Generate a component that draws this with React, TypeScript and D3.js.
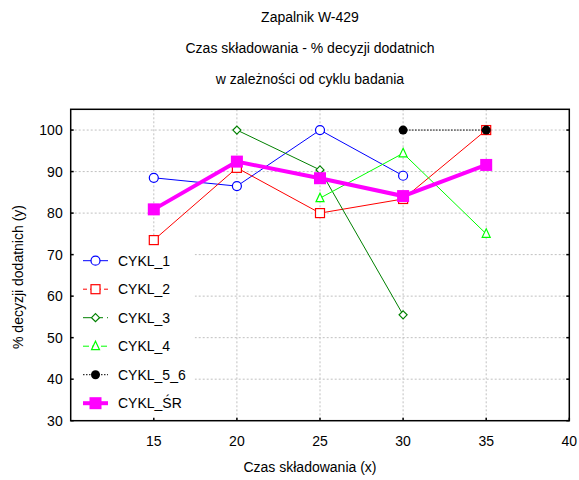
import React from "react";
import * as d3 from "d3";

const titleLines = ["Zapalnik W-429", "Czas składowania - % decyzji dodatnich", "w zależności od cyklu badania"];
const xTicks = [15, 20, 25, 30, 35, 40];
const yTicks = [30, 40, 50, 60, 70, 80, 90, 100];

const cykl1X = [15, 20, 25, 30];
const cykl1Y = [88.5, 86.5, 100, 89];
const cykl2X = [15, 20, 25, 30, 35];
const cykl2Y = [73.5, 90.9, 80, 83.4, 100];
const cykl3X = [20, 25, 30];
const cykl3Y = [100, 90.4, 55.5];
const cykl4X = [25, 30, 35];
const cykl4Y = [83.6, 94.4, 75];
const cykl56X = [30, 35];
const cykl56Y = [100, 100];
const cyklSrX = [15, 20, 25, 30, 35];
const cyklSrY = [80.9, 92.4, 88.4, 84.1, 91.6];

type Series = { name: string; xs: number[]; ys: number[]; color: string; marker: string; width: number; dash: string; legendDash: string };

const series: Series[] = [
  { name: "CYKL_1", xs: cykl1X, ys: cykl1Y, color: "#0000ff", marker: "circle", width: 1, dash: "", legendDash: "" },
  { name: "CYKL_2", xs: cykl2X, ys: cykl2Y, color: "#ff0000", marker: "square", width: 1, dash: "", legendDash: "4,3" },
  { name: "CYKL_3", xs: cykl3X, ys: cykl3Y, color: "#008000", marker: "diamond", width: 1, dash: "", legendDash: "8,4" },
  { name: "CYKL_4", xs: cykl4X, ys: cykl4Y, color: "#00ff00", marker: "triangle", width: 1, dash: "", legendDash: "6,3" },
  { name: "CYKL_5_6", xs: cykl56X, ys: cykl56Y, color: "#000000", marker: "dot", width: 1, dash: "1.5,1.5", legendDash: "1.5,1.5" },
  { name: "CYKL_ŚR", xs: cyklSrX, ys: cyklSrY, color: "#ff00ff", marker: "bigsquare", width: 4, dash: "", legendDash: "" },
];

const W = 579, H = 480;
const L = 70.7, R = 569.3, T = 109.3, B = 420.7;
const x = d3.scaleLinear().domain([10, 40]).range([L, R]);
const y = d3.scaleLinear().domain([30, 105]).range([B, T]);
const font = "'Liberation Sans', Arial, sans-serif";
const CX = 310;

function Marker({ kind, cx, cy, color }: { kind: string; cx: number; cy: number; color: string }) {
  switch (kind) {
    case "circle":
      return <circle cx={cx} cy={cy} r={4.5} fill="white" stroke={color} strokeWidth={1.2} />;
    case "square":
      return <rect x={cx - 4.5} y={cy - 4.5} width={9} height={9} fill="white" stroke={color} strokeWidth={1.2} />;
    case "diamond":
      return <path d={`M${cx},${cy - 4}L${cx + 4},${cy}L${cx},${cy + 4}L${cx - 4},${cy}Z`} fill="white" stroke={color} strokeWidth={1.2} />;
    case "triangle":
      return <path d={`M${cx},${cy - 5}L${cx + 4},${cy + 3.5}L${cx - 4},${cy + 3.5}Z`} fill="white" stroke={color} strokeWidth={1.2} />;
    case "dot":
      return <circle cx={cx} cy={cy} r={4.5} fill={color} />;
    case "bigsquare":
      return <rect x={cx - 6} y={cy - 6} width={12} height={12} fill={color} />;
  }
  return null;
}

export default function App() {
  const line = d3.line<[number, number]>().x((d) => x(d[0])).y((d) => y(d[1]));
  const legendY0 = 260.7, legendStep = 28.5;
  return (
    <svg width={W} height={H} style={{ position: "absolute", left: 0, top: 0 }} fontFamily={font}>
      <rect width={W} height={H} fill="white" />
      {titleLines.map((t, i) => (
        <text key={i} x={CX} y={22 + i * 31} textAnchor="middle" fontSize={14} fill="#000">{t}</text>
      ))}
      {/* grid */}
      {yTicks.filter((v) => v > 30).map((v) => (
        <line key={"gy" + v} x1={L} x2={R} y1={y(v)} y2={y(v)} stroke="#c0c0c0" strokeDasharray="2,2" />
      ))}
      {xTicks.filter((v) => v < 40).map((v) => (
        <line key={"gx" + v} x1={x(v)} x2={x(v)} y1={T} y2={B} stroke="#c0c0c0" strokeDasharray="2,2" />
      ))}
      {/* legend background */}
      <rect x={L + 1} y={243} width={123} height={B - 243 - 1} fill="white" />
      {/* series */}
      {series.map((s) => (
        <g key={s.name}>
          <path d={line(s.xs.map((v, i) => [v, s.ys[i]] as [number, number])) || ""} fill="none" stroke={s.color} strokeWidth={s.width} strokeDasharray={s.dash} />
          {s.xs.map((v, i) => (
            <Marker key={i} kind={s.marker} cx={x(v)} cy={y(s.ys[i])} color={s.color} />
          ))}
        </g>
      ))}
      {/* frame */}
      <rect x={L} y={T} width={R - L} height={B - T} fill="none" stroke="#000" strokeWidth={1.5} />
      {/* ticks */}
      {yTicks.map((v) => (
        <g key={"ty" + v}>
          <line x1={L} x2={L + 3} y1={y(v)} y2={y(v)} stroke="#000" strokeWidth={1.5} />
          <line x1={R - 3} x2={R} y1={y(v)} y2={y(v)} stroke="#000" strokeWidth={1.5} />
          <text x={L - 8} y={y(v) + 5} textAnchor="end" fontSize={14}>{v}</text>
        </g>
      ))}
      {xTicks.map((v) => (
        <g key={"tx" + v}>
          <line x1={x(v)} x2={x(v)} y1={B} y2={B - 3} stroke="#000" strokeWidth={1.5} />
          <text x={x(v)} y={B + 25} textAnchor="middle" fontSize={14}>{v}</text>
        </g>
      ))}
      <text x={CX} y={472} textAnchor="middle" fontSize={14}>Czas składowania (x)</text>
      <text transform={`translate(23,277) rotate(-90)`} textAnchor="middle" fontSize={14}>% decyzji dodatnich (y)</text>
      {/* legend */}
      {series.map((s, i) => {
        const ly = legendY0 + i * legendStep;
        return (
          <g key={"lg" + s.name}>
            <line x1={83} x2={108} y1={ly} y2={ly} stroke={s.color} strokeWidth={s.width} strokeDasharray={s.legendDash} />
            <Marker kind={s.marker} cx={95.5} cy={ly} color={s.color} />
            <text x={118} y={ly + 5} fontSize={14}>{s.name}</text>
          </g>
        );
      })}
    </svg>
  );
}
